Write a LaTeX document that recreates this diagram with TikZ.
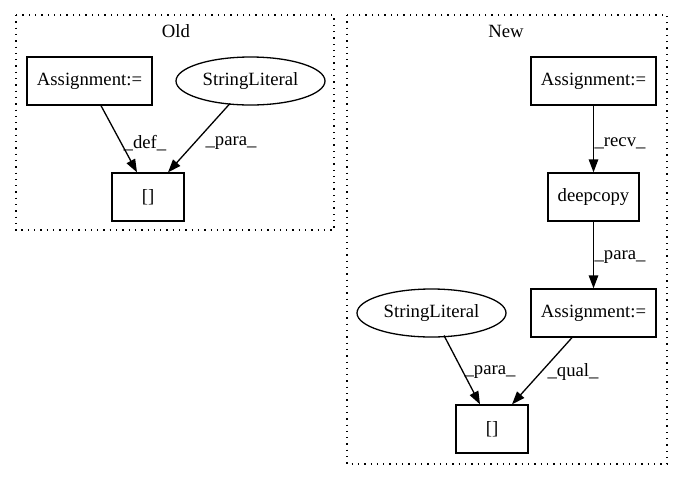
\documentclass[tikz,border=0pt]{standalone}
\usepackage{fontspec}
\setmainfont{Liberation Serif}
\usetikzlibrary{arrows.meta,shapes.geometric}
\begin{document}
\begin{tikzpicture}[x=1pt,y=-1pt,
  every node/.style={font=\fontsize{18.7}{22}\selectfont},
  box/.style={draw,line width=1.3pt,rectangle,minimum height=48pt,inner xsep=0pt,anchor=center},
  oval/.style={draw,line width=1.3pt,ellipse,minimum width=149pt,minimum height=48pt,inner sep=0pt},
  cluster/.style={draw,line width=1.3pt,dash pattern=on 1.3pt off 5pt},
  edge/.style={line width=1.3pt,-{Triangle[length=13pt,width=9.5pt]}},
  lbl/.style={fill=none,inner sep=1pt}]
\useasboundingbox (0,0) rectangle (683,480);
% clusters
\draw[cluster] (16,15) rectangle (334,230);
\node (oldt) at (176,31) {Old};
\draw[cluster] (347,15) rectangle (667,464);
\node (newt) at (506,31) {New};
% Old
\node[box,minimum width=125pt] (oa) at (89.5,81) {Assignment:=};
\node[oval] (os) at (250.5,81) {StringLiteral};
\node[box,minimum width=72pt] (ob) at (148,197) {[]};
\coordinate (osb) at (230,103.5);
\coordinate (nsb) at (444,335.5);
\draw[edge] (oa.south -| 101,0) -- (ob.north -| 137,0);
\draw[edge] (osb) -- (ob.north -| 168,0);
\node[lbl] (ld) at (145,143) {\_def\_};
\node[lbl] (lp) at (231,143) {\_para\_};
% New
\node[box,minimum width=125pt] (na) at (593.5,81) {Assignment:=};
\node[box,minimum width=91pt] (nd) at (593.5,197) {deepcopy};
\node[box,minimum width=125pt] (na2) at (593.5,313) {Assignment:=};
\node[oval] (ns) at (431.5,313) {StringLiteral};
\node[box,minimum width=72pt] (nb) at (492,429) {[]};
\draw[edge] (na) -- (nd);
\draw[edge] (nd) -- (na2);
\draw[edge] (nsb) -- (nb.north -| 480,0);
\draw[edge] (na2.south -| 572,0) -- (nb.north -| 512,0);
\node[lbl] (lr) at (620,143) {\_recv\_};
\node[lbl] (lp2) at (620,257) {\_para\_};
\node[lbl] (lp3) at (490,372) {\_para\_};
\node[lbl] (lq) at (573,372) {\_qual\_};
\end{tikzpicture}
\end{document}
